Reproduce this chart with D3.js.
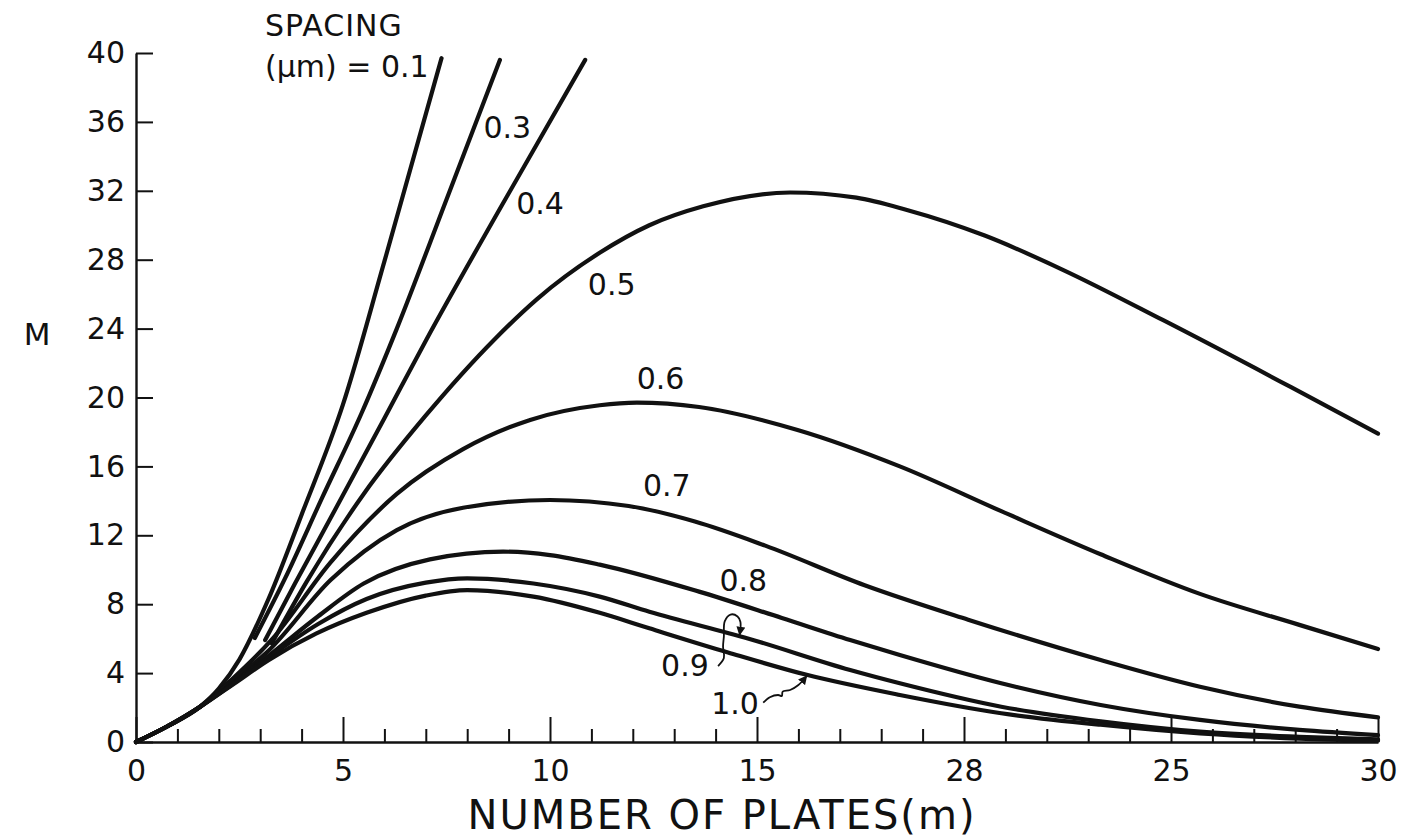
<!DOCTYPE html>
<html>
<head>
<meta charset="utf-8">
<script src="https://cdn.jsdelivr.net/npm/d3@7"></script>
<style>
  body { margin: 0; background: #fff; }
  text { font-family: "DejaVu Sans", sans-serif; fill: #111; }
</style>
</head>
<body>
<div id="chart"></div>
<script>
// axis ticks
var xMajorTicks = [0, 5, 10, 15, 20, 25, 30];
var xTickLabels = ["0", "5", "10", "15", "28", "25", "30"]; // the "28" is how the original prints 20
var xMinorTicks = [1, 2, 3, 4, 6, 7, 8, 9, 11, 12, 13, 14, 16, 17, 18, 19, 21, 22, 23, 24, 26, 27, 28, 29];
var yTicks = [0, 4, 8, 12, 16, 20, 24, 28, 32, 36, 40];

// curves: [number of plates m, M]
var curve01 = [[0,0],[0.75,0.9],[1.55,2.05],[2.0,3.1],[2.5,4.8],[3.2,8.3],[4.0,13.2],[5.0,19.6],[6.0,27.9],[7.38,39.7]];
var curve03 = [[2.87,6.04],[3.6,9.5],[4.5,14.2],[5.45,19.1],[6.3,24.0],[7.5,31.5],[8.79,39.6]];
var curve04 = [[3.12,5.92],[3.84,9.2],[4.7,13.0],[6.0,18.8],[7.0,23.3],[8.8,31.0],[10.85,39.6]];
var curve05 = [[3.28,5.73],[4.12,9.3],[5.5,14.4],[6.98,18.9],[8.67,23.4],[9.68,25.7],[11.2,28.4],[12.4,30.0],[13.7,31.1],[15.8,31.9],[17.4,31.6],[18.6,30.9],[20.5,29.4],[22.4,27.4],[24.8,24.5],[27.9,20.6],[30,17.9]];
var curve06 = [[0,0],[0.75,0.9],[1.55,2.05],[2.3,3.6],[3.3,6.0],[4.69,10.4],[6.3,14.4],[7.9,17.0],[9.52,18.7],[11.2,19.55],[12.1,19.7],[13.6,19.45],[16.0,18.1],[18.45,16.0],[20.9,13.4],[23.3,10.9],[25.7,8.6],[28.1,6.8],[30,5.4]];
var curve07 = [[0,0],[0.75,0.9],[1.55,2.05],[2.3,3.5],[3.2,5.3],[4.7,9.4],[6.3,12.3],[7.9,13.6],[10.0,14.05],[11.9,13.7],[13.5,12.8],[15.2,11.4],[17.6,9.1],[20.1,7.1],[23.3,4.76],[25.7,3.21],[28.1,2.05],[30,1.43]];
var curve08 = [[0,0],[0.75,0.9],[1.55,2.05],[2.35,3.45],[3.2,5.0],[4.4,7.3],[5.5,9.2],[7.1,10.6],[8.87,11.05],[10.0,10.85],[11.2,10.3],[13.6,8.73],[15.6,7.2],[17.25,5.92],[18.45,5.05],[20.9,3.41],[23.3,2.15],[25.7,1.28],[28.1,0.7],[30,0.4]];
var curve09 = [[0,0],[0.75,0.9],[1.55,2.05],[2.35,3.4],[3.2,4.9],[4.4,6.85],[5.57,8.3],[7.0,9.25],[8.0,9.5],[9.6,9.2],[11.2,8.44],[12.4,7.56],[14.8,6.0],[17.25,4.18],[18.45,3.41],[20.9,2.05],[23.3,1.2],[25.7,0.6],[28.1,0.3],[30,0.15]];
var curve10 = [[0,0],[0.75,0.9],[1.55,2.05],[2.35,3.35],[3.2,4.75],[4.36,6.3],[5.57,7.5],[7.0,8.5],[8.0,8.82],[9.6,8.44],[11.2,7.5],[12.4,6.6],[14.3,5.2],[16.2,3.9],[18.45,2.73],[20.9,1.67],[23.3,1.0],[25.7,0.5],[28.1,0.2],[30,0.08]];

var curves = [curve01, curve03, curve04, curve05, curve06, curve07, curve08, curve09, curve10];

// curve labels: text and centre position in data units
var spacingLabels = ["0.3", "0.4", "0.5", "0.6", "0.7", "0.8", "0.9", "1.0"];
var spacingLabelPos = [[8.97,35.7],[9.76,31.3],[11.49,26.6],[12.67,21.13],[12.82,14.9],[14.67,9.39],[13.26,4.47],[14.47,2.25]];

// little pointers for 0.9 and 1.0
var pointer09 = [[14.06,4.41],[14.2,4.87],[14.18,5.55],[14.2,6.13],[14.22,7.0],[14.36,7.4],[14.53,7.29],[14.6,6.97],[14.58,6.22]];
var pointer10 = [[15.15,2.28],[15.31,2.6],[15.51,2.73],[15.6,2.67],[15.62,2.92],[15.8,3.02],[16.0,3.31],[16.2,3.83]];

var width = 1403;
var height = 837;

var svg = d3.select("#chart")
    .append("svg")
    .attr("width", width)
    .attr("height", height);

var xScale = d3.scaleLinear().domain([0, 30]).range([136, 1378]);
var yScale = d3.scaleLinear().domain([0, 40]).range([742, 53]);

svg.append("defs").append("marker")
    .attr("id", "head")
    .attr("viewBox", "0 0 10 10")
    .attr("refX", 9)
    .attr("refY", 5)
    .attr("markerWidth", 5)
    .attr("markerHeight", 5)
    .attr("orient", "auto")
    .append("path")
    .attr("d", "M0,0 L10,5 L0,10 z")
    .attr("fill", "#111");

// x axis: minor ticks first, then labelled major ticks
var xMinor = svg.append("g")
    .attr("transform", `translate(0,${yScale(0)})`)
    .call(d3.axisBottom(xScale).tickValues(xMinorTicks).tickSize(-13).tickFormat(""));
xMinor.select(".domain").remove();

var xAxis = svg.append("g")
    .attr("transform", `translate(0,${yScale(0)})`)
    .call(d3.axisBottom(xScale).tickValues(xMajorTicks).tickSizeInner(-25).tickSizeOuter(0)
        .tickPadding(18).tickFormat(function(d, i) { return xTickLabels[i]; }));

var yAxis = svg.append("g")
    .attr("transform", `translate(${xScale(0)},0)`)
    .call(d3.axisLeft(yScale).tickValues(yTicks).tickSizeInner(-17).tickSizeOuter(0).tickPadding(11));

svg.selectAll(".domain").attr("stroke", "#111").attr("stroke-width", 2.4);
svg.selectAll(".tick line").attr("stroke", "#111").attr("stroke-width", 2);
svg.selectAll(".tick text")
    .attr("font-size", 30)
    .attr("font-family", "DejaVu Sans, sans-serif")
    .attr("fill", "#111");

// axis titles
svg.append("text")
    .attr("x", 722)
    .attr("y", 829)
    .attr("text-anchor", "middle")
    .attr("font-size", 40)
    .attr("letter-spacing", 2)
    .text("NUMBER OF PLATES(m)");

svg.append("text")
    .attr("x", 37)
    .attr("y", 345)
    .attr("text-anchor", "middle")
    .attr("font-size", 31)
    .text("M");

svg.append("text")
    .attr("x", 265)
    .attr("y", 36)
    .attr("font-size", 30)
    .attr("letter-spacing", 1)
    .text("SPACING");

svg.append("text")
    .attr("x", 265)
    .attr("y", 77)
    .attr("font-size", 30)
    .text("(\u03bcm) = 0.1");

// the curves
var line = d3.line()
    .x(function(d) { return xScale(d[0]); })
    .y(function(d) { return yScale(d[1]); })
    .curve(d3.curveMonotoneX);

svg.selectAll(".curve")
    .data(curves)
    .enter()
    .append("path")
    .attr("class", "curve")
    .attr("d", line)
    .attr("fill", "none")
    .attr("stroke", "#111")
    .attr("stroke-width", 4.2)
    .attr("stroke-linecap", "round")
    .attr("stroke-linejoin", "round");

svg.selectAll(".spacing")
    .data(spacingLabels)
    .enter()
    .append("text")
    .attr("class", "spacing")
    .attr("x", function(d, i) { return xScale(spacingLabelPos[i][0]); })
    .attr("y", function(d, i) { return yScale(spacingLabelPos[i][1]); })
    .attr("dy", "0.36em")
    .attr("text-anchor", "middle")
    .attr("font-size", 30)
    .text(function(d) { return d; });

var pointer = d3.line()
    .x(function(d) { return xScale(d[0]); })
    .y(function(d) { return yScale(d[1]); })
    .curve(d3.curveCatmullRom);

[pointer09, pointer10].forEach(function(p) {
    svg.append("path")
        .attr("d", pointer(p))
        .attr("fill", "none")
        .attr("stroke", "#111")
        .attr("stroke-width", 1.8)
        .attr("marker-end", "url(#head)");
});
</script>
</body>
</html>
